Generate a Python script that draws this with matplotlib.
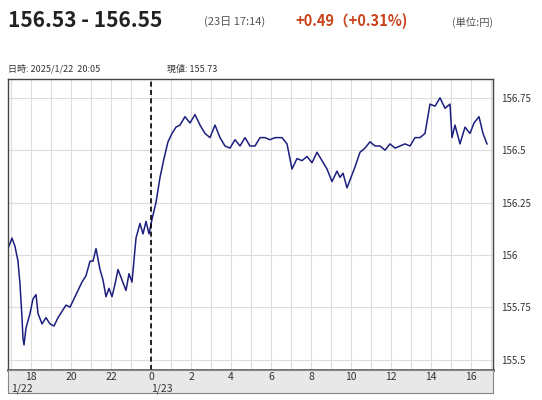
import matplotlib

matplotlib.use("Agg")
import matplotlib.pyplot as plt

plt.rcParams["font.family"] = ["Noto Sans CJK JP", "DejaVu Sans"]

# hours relative to 1/23 00:00, and rate (yen)
hours = [-7.15, -6.95, -6.8, -6.65, -6.55, -6.45, -6.4, -6.35, -6.25, -6.05, -5.9, -5.75,
         -5.65, -5.45, -5.25, -5.05, -4.85, -4.65, -4.45, -4.25, -4.05, -3.85, -3.65, -3.45,
         -3.25, -3.05, -2.9, -2.75, -2.55, -2.4, -2.25, -2.1, -1.95, -1.8, -1.65, -1.45,
         -1.25, -1.1, -0.95, -0.75, -0.55, -0.4, -0.25, -0.1, 0.05, 0.25, 0.45, 0.65, 0.85,
         1.05, 1.25, 1.45, 1.7, 1.95, 2.2, 2.45, 2.7, 2.95, 3.2, 3.45, 3.7, 3.95, 4.2, 4.45,
         4.7, 4.95, 5.2, 5.45, 5.7, 5.95, 6.2, 6.35, 6.55, 6.8, 7.05, 7.3, 7.55, 7.8, 8.05,
         8.3, 8.55, 8.8, 9.05, 9.3, 9.45, 9.6, 9.8, 10.0, 10.2, 10.45, 10.7, 10.95, 11.2,
         11.45, 11.7, 11.95, 12.2, 12.45, 12.7, 12.95, 13.2, 13.45, 13.7, 13.95, 14.2, 14.45,
         14.7, 14.95, 15.05, 15.2, 15.45, 15.7, 15.95, 16.15, 16.4, 16.6, 16.8]
rate = [156.03, 156.08, 156.04, 155.97, 155.86, 155.70, 155.60, 155.57, 155.65, 155.72,
        155.79, 155.81, 155.72, 155.67, 155.70, 155.67, 155.66, 155.70, 155.73, 155.76,
        155.75, 155.79, 155.83, 155.87, 155.90, 155.97, 155.97, 156.03, 155.93, 155.88,
        155.80, 155.84, 155.80, 155.86, 155.93, 155.88, 155.83, 155.91, 155.87, 156.08,
        156.15, 156.10, 156.16, 156.10, 156.17, 156.25, 156.37, 156.46, 156.54, 156.58,
        156.61, 156.62, 156.66, 156.63, 156.67, 156.62, 156.58, 156.56, 156.62, 156.56,
        156.52, 156.51, 156.55, 156.52, 156.56, 156.52, 156.52, 156.56, 156.56, 156.55,
        156.56, 156.56, 156.56, 156.53, 156.41, 156.46, 156.45, 156.47, 156.44, 156.49,
        156.45, 156.41, 156.35, 156.40, 156.37, 156.39, 156.32, 156.37, 156.42, 156.49,
        156.51, 156.54, 156.52, 156.52, 156.50, 156.53, 156.51, 156.52, 156.53, 156.52,
        156.56, 156.56, 156.58, 156.72, 156.71, 156.75, 156.70, 156.72, 156.56, 156.62,
        156.53, 156.61, 156.58, 156.63, 156.66, 156.58, 156.53]

x_ticks = [-6, -4, -2, 0, 2, 4, 6, 8, 10, 12, 14, 16]
x_labels = ["18", "20", "22", "0", "2", "4", "6", "8", "10", "12", "14", "16"]
y_ticks = [155.5, 155.75, 156.0, 156.25, 156.5, 156.75]
y_labels = ["155.5", "155.75", "156", "156.25", "156.5", "156.75"]

fig = plt.figure(figsize=(5.42, 4.0), dpi=100)
ax = fig.add_axes([8 / 542, 0.075, 485 / 542, 0.7275])

ax.plot(hours, rate, color="#1c1f7e", lw=1.1)
ax.axvline(0, color="black", ls=(0, (3, 2)), lw=1.2)

ax.set_xlim(-7.15, 17.1)
ax.set_ylim(155.45, 156.84)
ax.set_xticks(range(-7, 18))
ax.set_xticklabels([])
ax.tick_params(axis="x", length=0)
ax.grid(axis="x", color="#dddddd", lw=0.8)
ax.set_yticks(y_ticks)
ax.set_yticklabels(y_labels, fontsize=7, color="#333333")
ax.yaxis.tick_right()
ax.tick_params(axis="y", length=0, pad=6)
ax.grid(axis="y", color="#dddddd", lw=0.8)
for s in ax.spines.values():
    s.set_color("#444444")
    s.set_linewidth(1.0)
ax.spines["bottom"].set_linewidth(1.8)

# gray band for time labels
band = fig.add_axes([8 / 542, 7 / 400, 485 / 542, 23 / 400])
band.set_facecolor("#e8e8e8")
band.set_xlim(ax.get_xlim())
band.set_ylim(0, 1)
band.set_xticks([])
band.set_yticks([])
for s in band.spines.values():
    s.set_color("#888888")
    s.set_linewidth(0.8)
for h, lab in zip(x_ticks, x_labels):
    band.text(h, 0.68, lab, ha="center", va="center", fontsize=7.5, color="#333333")
band.text(-7.0, 0.2, "1/22", ha="left", va="center", fontsize=7.5, color="#333333")
band.text(0.0, 0.2, "1/23", ha="left", va="center", fontsize=7.5, color="#333333")

# header
fig.text(8 / 542, 0.948, "156.53 - 156.55", fontsize=15, fontweight="bold", color="#222222", va="center")
fig.text(204 / 542, 0.945, "(23日 17:14)", fontsize=8, color="#555555", va="center")
fig.text(295 / 542, 0.948, "+0.49（+0.31%)", fontsize=10.5, fontweight="bold", color="#c8421a", va="center")
fig.text(452 / 542, 0.945, "(単位:円)", fontsize=7.5, color="#555555", va="center")
fig.text(8 / 542, 0.828, "日時: 2025/1/22  20:05", fontsize=6.5, color="#333333", va="center")
fig.text(167 / 542, 0.828, "現値: 155.73", fontsize=6.5, color="#333333", va="center")

fig.savefig("out.png", dpi=100, facecolor="white")
